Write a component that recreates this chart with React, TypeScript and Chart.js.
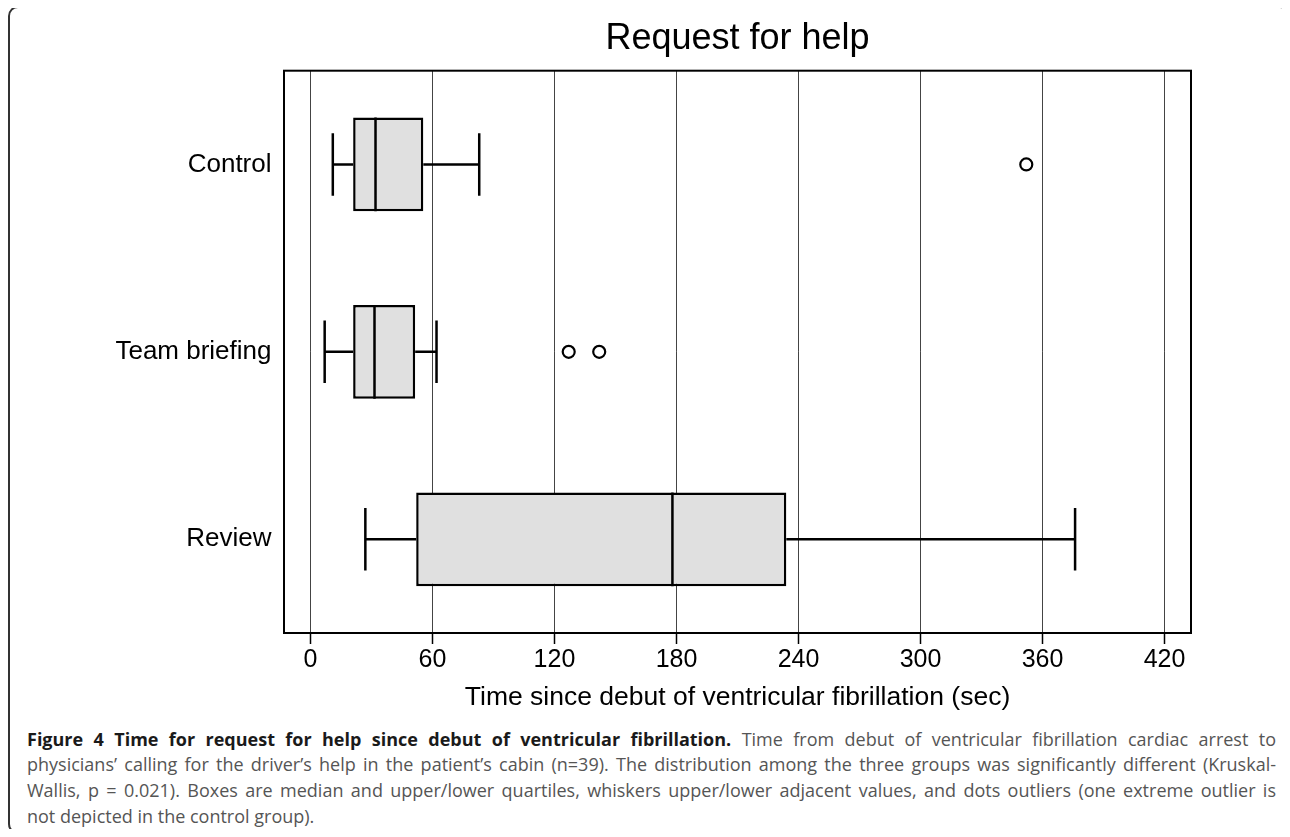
import React, { useEffect, useRef, useState } from "react";
import { Chart, registerables } from "chart.js";

Chart.register(...registerables);

const categories = ["Control", "Team briefing", "Review"];
const lowerWhisker = [11, 7, 27];
const lowerQuartile = [21, 21, 52];
const medians = [32, 31.5, 178];
const upperQuartile = [55.5, 51.5, 234];
const upperWhisker = [83, 62, 376];
const outlierGroups = ["Control", "Team briefing", "Team briefing"];
const outlierValues = [352, 127, 142];
const xTickValues = [0, 60, 120, 180, 240, 300, 360, 420];
const xMin = -13;
const xMax = 433;
const chartTitle = "Request for help";
const xAxisTitle = "Time since debut of ventricular fibrillation (sec)";

const FONT = "'Liberation Sans', Arial, Helvetica, sans-serif";

const boxExtrasPlugin = {
  id: "boxExtras",
  afterDatasetsDraw(chart: any) {
    const { ctx, scales } = chart;
    const xs = scales.x;
    const ys = scales.y;
    const meta = chart.getDatasetMeta(0);
    ctx.save();
    ctx.strokeStyle = "#000";
    ctx.lineWidth = 2.5;
    ctx.lineCap = "butt";
    categories.forEach((_, i) => {
      const cy = ys.getPixelForValue(i);
      const bar: any = meta.data[i];
      const half = bar && bar.height ? bar.height / 2 : 47;
      const band = ys.getPixelForValue(1) - ys.getPixelForValue(0);
      const capHalf = band / 6;
      const pLowW = xs.getPixelForValue(lowerWhisker[i]);
      const pQ1 = xs.getPixelForValue(lowerQuartile[i]);
      const pQ3 = xs.getPixelForValue(upperQuartile[i]);
      const pHighW = xs.getPixelForValue(upperWhisker[i]);
      const pMed = xs.getPixelForValue(medians[i]);
      ctx.beginPath();
      ctx.moveTo(pLowW, cy);
      ctx.lineTo(pQ1, cy);
      ctx.moveTo(pQ3, cy);
      ctx.lineTo(pHighW, cy);
      ctx.moveTo(pLowW, cy - capHalf);
      ctx.lineTo(pLowW, cy + capHalf);
      ctx.moveTo(pHighW, cy - capHalf);
      ctx.lineTo(pHighW, cy + capHalf);
      ctx.moveTo(pMed, cy - half);
      ctx.lineTo(pMed, cy + half);
      ctx.stroke();
    });
    ctx.restore();
  },
  afterDraw(chart: any) {
    const { ctx, chartArea } = chart;
    ctx.save();
    ctx.strokeStyle = "#000";
    ctx.lineWidth = 2;
    ctx.strokeRect(
      chartArea.left,
      chartArea.top,
      chartArea.right - chartArea.left,
      chartArea.bottom - chartArea.top
    );
    ctx.restore();
  },
};

function BoxChart() {
  const ref = useRef<HTMLCanvasElement | null>(null);
  const [err, setErr] = useState("");
  useEffect(() => {
    if (!ref.current) return;
    let chart: any = null;
    try {
      chart = new Chart(ref.current, {
        type: "bar",
        data: {
          labels: categories,
          datasets: [
            {
              type: "bar",
              data: categories.map((_, i) => [lowerQuartile[i], upperQuartile[i]]),
              backgroundColor: "#e0e0e0",
              borderColor: "#000",
              borderWidth: 2.5,
              borderSkipped: false,
              categoryPercentage: 1,
              barPercentage: 0.5,
            },
            {
              type: "scatter",
              data: outlierValues.map((v, i) => ({ x: v, y: outlierGroups[i] })),
              pointRadius: 6,
              pointBorderWidth: 2.2,
              pointBorderColor: "#000",
              pointBackgroundColor: "rgba(255,255,255,0)",
              showLine: false,
            },
          ],
        },
        options: {
          indexAxis: "y",
          responsive: false,
          animation: false,
          layout: { padding: { top: 0, left: 0, right: 99, bottom: 0 } },
          plugins: {
            legend: { display: false },
            tooltip: { enabled: false },
            title: {
              display: true,
              text: chartTitle,
              fullSize: false,
              color: "#000",
              font: { family: FONT, size: 36, weight: "normal", lineHeight: 1.2 },
              padding: { top: 17, bottom: 10.5 },
            },
          },
          scales: {
            x: {
              type: "linear",
              min: xMin,
              max: xMax,
              afterBuildTicks: (scale: any) => {
                scale.ticks = xTickValues.map((v) => ({ value: v }));
              },
              afterFit: (scale: any) => {
                scale.height = 87;
              },
              border: { display: false },
              grid: {
                color: "#444",
                lineWidth: 1,
                drawTicks: true,
                tickLength: 11,
                tickColor: "#000",
                tickWidth: 1.5,
              },
              ticks: {
                color: "#000",
                padding: 1,
                maxRotation: 0,
                autoSkip: false,
                font: { family: FONT, size: 25, lineHeight: 1.2 },
              },
              title: {
                display: true,
                text: xAxisTitle,
                color: "#000",
                font: { family: FONT, size: 26.5, lineHeight: 1.2 },
                padding: { top: 0, bottom: 6.3 },
              },
            },
            y: {
              type: "category",
              labels: categories,
              offset: true,
              afterFit: (scale: any) => {
                scale.width = 284;
              },
              border: { display: false },
              grid: { display: false, drawTicks: false },
              ticks: {
                color: "#000",
                padding: 12.5,
                font: { family: FONT, size: 26, lineHeight: 1.2 },
              },
            },
          },
        },
        plugins: [boxExtrasPlugin],
      } as any);
    } catch (e: any) {
      setErr(String(e && e.stack ? e.stack : e));
    }
    return () => {
      if (chart) chart.destroy();
    };
  }, []);
  return (
    <>
      <canvas
        ref={ref}
        width={1290}
        height={720}
        style={{ display: "block", width: 1290, height: 720 }}
      />
      {err ? (
        <pre style={{ position: "absolute", left: 20, top: 20, fontSize: 12, color: "red" }}>{err}</pre>
      ) : null}
    </>
  );
}

const captionStyleBold = { fontWeight: 700, color: "#1a1a1a" };

function CaptionLine(props: { children: any; justify: boolean }) {
  return (
    <div
      style={{
        whiteSpace: "nowrap",
        textAlign: props.justify ? "justify" : "left",
        textAlignLast: props.justify ? "justify" : "left",
      }}
    >
      {props.children}
    </div>
  );
}

export default function App() {
  return (
    <div style={{ position: "relative", width: 1274, height: 821 }}>
      <div
        style={{
          position: "absolute",
          left: 0,
          top: -2,
          width: 1282,
          height: 828,
          boxSizing: "border-box",
          border: "2px solid #333",
          borderRadius: 10,
        }}
      />
      <div style={{ position: "absolute", left: -8, top: -8, width: 1290, height: 720 }}>
        <BoxChart />
      </div>
      <div
        style={{
          position: "absolute",
          left: 19,
          top: 718.5,
          width: 1249,
          fontFamily: "'Open Sans', sans-serif",
          fontSize: 18,
          lineHeight: "25.7px",
          color: "#555",
        }}
      >
        <CaptionLine justify={true}>
          <span style={captionStyleBold}>
            Figure 4 Time for request for help since debut of ventricular fibrillation.
          </span>{" "}
          Time from debut of ventricular fibrillation cardiac arrest to
        </CaptionLine>
        <CaptionLine justify={true}>
          physicians’ calling for the driver’s help in the patient’s cabin (n=39). The distribution among the three groups was significantly different (Kruskal-
        </CaptionLine>
        <CaptionLine justify={true}>
          Wallis, p = 0.021). Boxes are median and upper/lower quartiles, whiskers upper/lower adjacent values, and dots outliers (one extreme outlier is
        </CaptionLine>
        <CaptionLine justify={false}>not depicted in the control group).</CaptionLine>
      </div>
    </div>
  );
}
